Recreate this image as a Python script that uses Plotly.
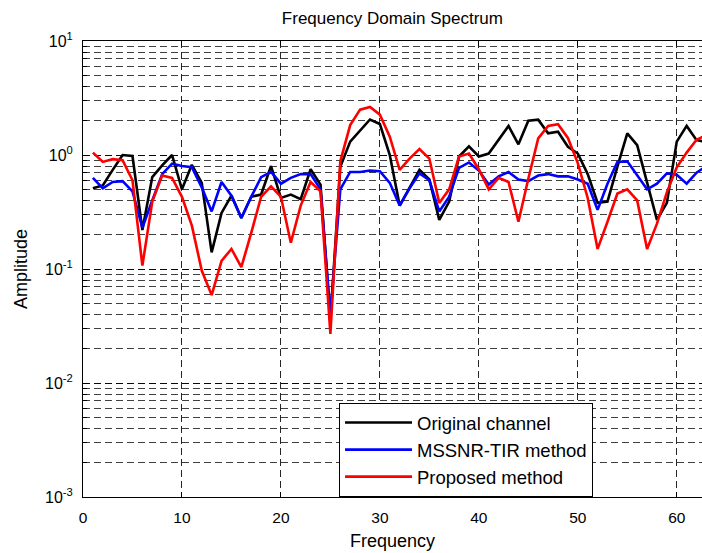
import plotly.graph_objects as go

freq = list(range(1, 64))

original = [0.51, 0.54, 0.74, 1.0, 0.98, 0.22, 0.64, 0.81, 1.0, 0.5,
            0.82, 0.57, 0.14, 0.31, 0.44, 0.28, 0.43, 0.45, 0.8, 0.42,
            0.45, 0.41, 0.75, 0.55, 0.035, 0.79, 1.31, 1.63, 2.05, 1.87,
            1.0, 0.36, 0.51, 0.74, 0.61, 0.27, 0.39, 0.97, 1.19, 0.97,
            1.03, 1.35, 1.8, 1.24, 2.0, 2.04, 1.55, 1.6, 1.18, 1.03,
            0.68, 0.38, 0.39, 0.79, 1.55, 1.22, 0.56, 0.27, 0.38, 1.31,
            1.8, 1.35, 1.3]

mssnr = [0.63, 0.51, 0.58, 0.59, 0.48, 0.23, 0.4, 0.68, 0.84, 0.8,
         0.78, 0.52, 0.32, 0.58, 0.44, 0.28, 0.43, 0.64, 0.71, 0.56,
         0.63, 0.68, 0.68, 0.5, 0.04, 0.5, 0.71, 0.71, 0.73, 0.72,
         0.57, 0.36, 0.51, 0.69, 0.6, 0.32, 0.43, 0.77, 0.86, 0.73,
         0.55, 0.65, 0.71, 0.61, 0.59, 0.66, 0.68, 0.65, 0.65, 0.61,
         0.56, 0.33, 0.56, 0.87, 0.88, 0.66, 0.5, 0.56, 0.69, 0.67,
         0.56, 0.7, 0.8]

proposed = [1.05, 0.87, 0.92, 0.9, 0.6, 0.107, 0.39, 0.66, 0.63, 0.43,
            0.24, 0.097, 0.059, 0.118, 0.15, 0.104, 0.207, 0.43, 0.53, 0.43,
            0.17, 0.36, 0.58, 0.48, 0.027, 0.88, 1.83, 2.5, 2.64, 2.26,
            1.45, 0.74, 0.93, 1.13, 0.93, 0.38, 0.5, 0.97, 1.03, 0.75,
            0.5, 0.63, 0.58, 0.26, 0.62, 1.4, 1.8, 1.86, 1.41, 0.85,
            0.42, 0.15, 0.26, 0.46, 0.5, 0.4, 0.15, 0.25, 0.47, 0.78,
            1.05, 1.36, 1.5]

series_names = ["Original channel", "MSSNR-TIR method", "Proposed method"]
series_colors = ["#000000", "#0000ff", "#ff0000"]

y_tickvals = [1e-3, 1e-2, 1e-1, 1e0, 1e1]
y_ticktext = ["10<sup>-3</sup>", "10<sup>-2</sup>", "10<sup>-1</sup>", "10<sup>0</sup>", "10<sup>1</sup>"]
x_tickvals = [0, 10, 20, 30, 40, 50, 60]

FONT = "Liberation Sans, Arial, sans-serif"

fig = go.Figure()
for i, (name, col, vals) in enumerate(zip(series_names, series_colors, [original, mssnr, proposed])):
    fig.add_trace(go.Scatter(x=freq, y=vals, mode="lines", name=name,
                             line=dict(color=col, width=2.6),
                             legendgroup=f"g{i}"))

grid_dash = "7px,4px"
fig.update_layout(
    width=702, height=553,
    margin=dict(l=83, r=0, t=41, b=56),
    paper_bgcolor="white", plot_bgcolor="white",
    font=dict(family=FONT, color="black", size=16),
    title=dict(text="Frequency Domain Spectrum", x=0.559, xanchor="center",
               y=0.968, yanchor="middle", font=dict(size=17, family=FONT)),
    showlegend=True,
    legend=dict(x=0.4136, y=0.0, xanchor="left", yanchor="bottom",
                bgcolor="white", bordercolor="black", borderwidth=1,
                font=dict(size=18.5, family=FONT), tracegroupgap=0,
                itemwidth=67),
    xaxis=dict(range=[0, 62.55], tickvals=x_tickvals, ticks="inside", ticklen=5,
               tickcolor="black", showline=True, linecolor="black", linewidth=1,
               mirror="ticks", showgrid=True, gridcolor="rgba(0,0,0,0.85)",
               griddash=grid_dash, gridwidth=1, zeroline=False,
               ticklabelstandoff=6,
               title=dict(text="Frequency", standoff=9, font=dict(size=18)),
               tickfont=dict(size=15.5)),
    yaxis=dict(type="log", range=[-3, 1], tickvals=y_tickvals, ticktext=y_ticktext,
               ticks="inside", ticklen=5, tickcolor="black", showline=True,
               linecolor="black", linewidth=1, mirror=False,
               showgrid=True, gridcolor="rgba(0,0,0,0.85)", griddash=grid_dash,
               gridwidth=1, zeroline=False, ticklabelstandoff=6,
               minor=dict(dtick="D1", showgrid=True, gridcolor="rgba(0,0,0,0.75)",
                          griddash=grid_dash, gridwidth=1, ticks="inside",
                          ticklen=4, tickcolor="black"),
               title=dict(text="Amplitude", standoff=12, font=dict(size=18)),
               tickfont=dict(size=16)),
)

fig.write_html("out.html")
